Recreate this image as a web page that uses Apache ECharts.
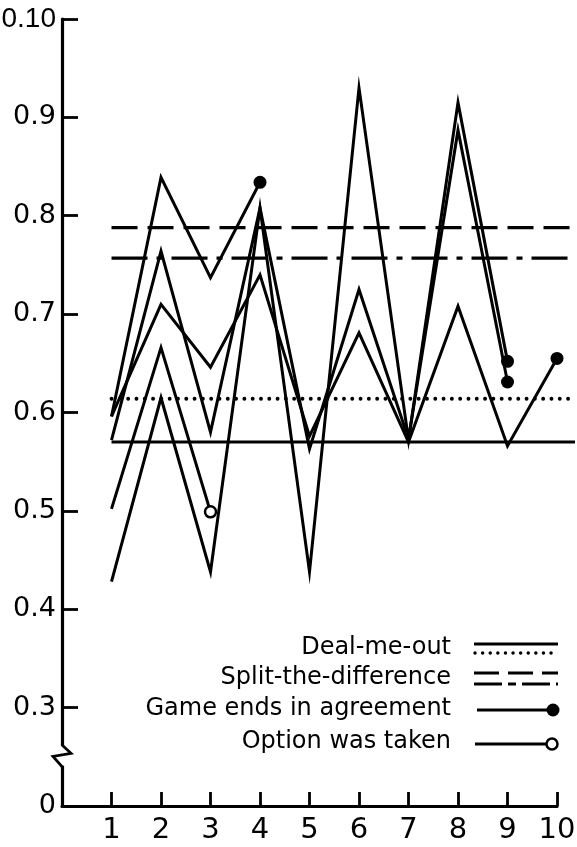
<!DOCTYPE html>
<html><head><meta charset="utf-8">
<script src="https://cdn.jsdelivr.net/npm/echarts@6/dist/echarts.min.js"></script>
<style>html,body{margin:0;padding:0;background:#fff}#c{width:577px;height:847px}</style>
</head><body><div id="c"></div>
<script>
// ---- data ----
const xTicks = [1, 2, 3, 4, 5, 6, 7, 8, 9, 10];
const yTickLabels = ['0', '0.3', '0.4', '0.5', '0.6', '0.7', '0.8', '0.9', '0.10'];
// game trajectories (value per round, starting at round 1)
const gameA = [0.596, 0.839, 0.737, 0.834];                                   // ends in agreement
const gameB = [0.572, 0.764, 0.580, 0.808, 0.563, 0.725, 0.573, 0.887, 0.631];  // ends in agreement
const gameC = [0.596, 0.710, 0.646, 0.740, 0.576, 0.681, 0.570, 0.708, 0.566, 0.655]; // ends in agreement
const gameD = [0.502, 0.666, 0.499];                                          // option was taken
const gameE = [0.428, 0.615, 0.438, 0.808, 0.438, 0.930, 0.572, 0.915, 0.652];  // ends in agreement
const gameEnds = ['agreement', 'agreement', 'agreement', 'option', 'agreement'];
// reference levels
const dealMeOutSolid = 0.570;
const dealMeOutDotted = 0.614;
const splitDashed = 0.788;
const splitDashDot = 0.757;
const refLineRange = [1, 10.36];
const legendLabels = ['Deal-me-out', 'Split-the-difference', 'Game ends in agreement', 'Option was taken'];
// axis break (the axis is drawn from 0.2 upward, shown as "0")
const axisMin = 0.2, axisMax = 1.0;
const breakRange = [0.241, 0.261];

// ---- chart ----
const chart = echarts.init(document.getElementById('c'), null, {renderer: 'canvas'});
const FONT = 'DejaVu Sans';
const games = [gameA, gameB, gameC, gameD, gameE];
const LW = 3;

function gameSeries(vals, end) {
  const last = vals.length - 1;
  return {
    type: 'line', symbol: 'circle', silent: true, clip: false,
    xAxisIndex: 0, yAxisIndex: 0,
    lineStyle: {color: '#000', width: LW, join: 'miter', miterLimit: 12},
    itemStyle: {color: '#000'},
    data: vals.map((v, i) => {
      if (i !== last) return {value: [xTicks[i], v], symbol: 'none'};
      return end === 'agreement'
        ? {value: [xTicks[i], v], symbol: 'circle', symbolSize: 13, itemStyle: {color: '#000'}}
        : {value: [xTicks[i], v], symbol: 'circle', symbolSize: 11, itemStyle: {color: '#fff', borderColor: '#000', borderWidth: 2.5}};
    }),
    z: 3
  };
}
function refSeries(v, dash, width, cap) {
  return {
    type: 'line', symbol: 'none', silent: true, clip: false,
    xAxisIndex: 1, yAxisIndex: 1,
    lineStyle: {color: '#000', width: width, type: dash, cap: cap || 'butt'},
    data: [[refLineRange[0], v], [refLineRange[1], v]],
    z: 2
  };
}

const series = games.map((g, i) => gameSeries(g, gameEnds[i]));
series.push(refSeries(dealMeOutSolid, 'solid', 2.8));
series.push(refSeries(dealMeOutDotted, [0.1, 8.2], 3.8, 'round'));
series.push(refSeries(splitDashed, [26, 10], 3.2));
series.push(refSeries(splitDashDot, [36, 9, 6, 9], 3.2));

chart.setOption({
  animation: false,
  backgroundColor: '#fff',
  grid: [
    {left: 62, right: 20, top: 19, bottom: 41, containLabel: false, outerBoundsMode: 'none'},
    {left: 62, right: 2, top: 19, bottom: 41, containLabel: false, outerBoundsMode: 'none'}
  ],
  xAxis: [{
    type: 'value', gridIndex: 0, min: 0, max: 10, interval: 1,
    axisLine: {show: true, lineStyle: {color: '#000', width: 3.2}},
    axisTick: {show: true, inside: true, length: 14, lineStyle: {color: '#000', width: 2.8}},
    splitLine: {show: false},
    axisLabel: {
      color: '#000', fontFamily: FONT, fontSize: 29, margin: 10, showMinLabel: false,
      formatter: v => (v === 0 ? '' : String(v))
    }
  }, {
    type: 'value', gridIndex: 1, min: 0, max: refLineRange[1], show: false
  }],
  yAxis: [{
    type: 'value', gridIndex: 0, min: axisMin, max: axisMax, interval: 0.1,
    axisLine: {show: true, lineStyle: {color: '#000', width: 3.2}},
    axisTick: {show: true, inside: true, length: 16, lineStyle: {color: '#000', width: 2.8}},
    splitLine: {show: false},
    axisLabel: {
      color: '#000', fontFamily: FONT, fontSize: 27, margin: 6,
      formatter: (v) => {
        const i = Math.round((v - axisMin) * 10);
        return i === yTickLabels.length - 1 ? '{t|' + yTickLabels[i] + '}' : yTickLabels[i];
      },
      rich: {t: {fontFamily: 'Liberation Sans', fontSize: 28, color: '#000'}}
    }
  }, {
    type: 'value', gridIndex: 1, min: axisMin, max: axisMax, show: false
  }],
  series: series
});

// ---- axis break zigzag + legend ----
const pTop = chart.convertToPixel({gridIndex: 0}, [0, breakRange[1]]);
const pBot = chart.convertToPixel({gridIndex: 0}, [0, breakRange[0]]);
const ax = pTop[0], y0 = pTop[1], y1 = pBot[1];
const h = y1 - y0;

const g = [];
g.push({type: 'rect', shape: {x: ax - 5, y: y0, width: 10, height: h}, style: {fill: '#fff'}, z: 100});
g.push({type: 'polyline', shape: {points: [[ax, y0 - 1], [ax + 9, y0 + h * 0.37], [ax - 9, y0 + h * 0.53], [ax, y1 + 1]]},
  style: {stroke: '#000', lineWidth: 2.8, fill: null, lineJoin: 'miter'}, z: 101});

const legendTextRight = 451;
const legendRowsY = [648, 678, 709, 742];
const symL = 474, symR = 558;
legendLabels.forEach((t, i) => {
  g.push({type: 'text', z: 100, style: {text: t, x: legendTextRight, y: legendRowsY[i],
    align: 'right', textAlign: 'right', verticalAlign: 'middle', textVerticalAlign: 'middle',
    font: '24px "' + FONT + '"', fill: '#000'}});
});
// Deal-me-out: solid + dotted
g.push({type: 'line', z: 100, shape: {x1: symL, y1: 644, x2: symR, y2: 644}, style: {stroke: '#000', lineWidth: 2.8}});
g.push({type: 'line', z: 100, shape: {x1: symL + 1, y1: 653, x2: symR, y2: 653}, style: {stroke: '#000', lineWidth: 3.4, lineDash: [0.1, 7.5], lineCap: 'round'}});
// Split-the-difference: dashed + dash-dot
g.push({type: 'line', z: 100, shape: {x1: symL, y1: 673, x2: symR, y2: 673}, style: {stroke: '#000', lineWidth: 3, lineDash: [25, 9]}});
g.push({type: 'line', z: 100, shape: {x1: symL, y1: 684, x2: symR, y2: 684}, style: {stroke: '#000', lineWidth: 3, lineDash: [28, 6, 8, 6]}});
// Game ends in agreement
g.push({type: 'line', z: 100, shape: {x1: 477, y1: 710, x2: 553, y2: 710}, style: {stroke: '#000', lineWidth: LW}});
g.push({type: 'circle', z: 101, shape: {cx: 553, cy: 710, r: 6.5}, style: {fill: '#000'}});
// Option was taken
g.push({type: 'line', z: 100, shape: {x1: 475, y1: 744, x2: 546, y2: 744}, style: {stroke: '#000', lineWidth: LW}});
g.push({type: 'circle', z: 101, shape: {cx: 552, cy: 744, r: 5.5}, style: {fill: '#fff', stroke: '#000', lineWidth: 2.5}});

chart.setOption({graphic: g});
</script>
</body></html>
